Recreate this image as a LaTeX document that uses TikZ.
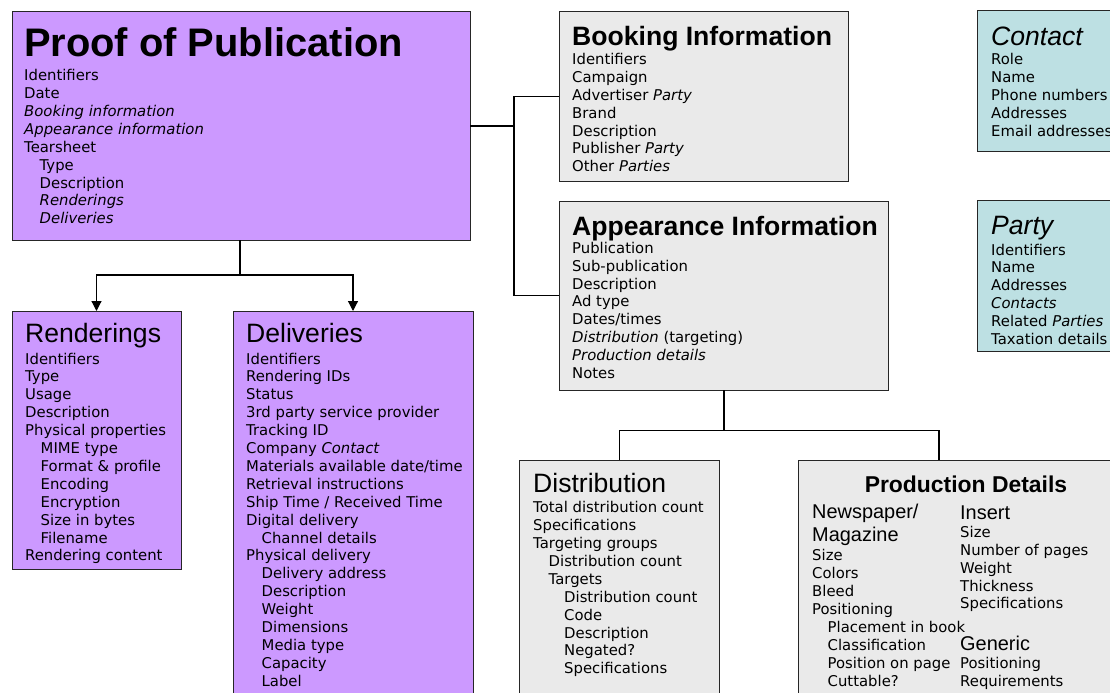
\documentclass[tikz,border=0pt]{standalone}
\usepackage{fontspec}
\newfontfamily\bodyfont{DejaVu Sans}
\newfontfamily\headfont{Liberation Sans}
\usetikzlibrary{arrows.meta,calc}
\definecolor{pub}{HTML}{CC99FF}
\definecolor{info}{HTML}{EAEAEA}
\definecolor{refc}{HTML}{BDE0E3}
\newcounter{ln}
\newcommand\startlist[4]{\def\lx{#1}\def\ly{#2}\def\lp{#3}\def\lname{#4}\setcounter{ln}{0}}
\newcommand\li[2]{\node[itm] (\lname-\theln) at ({\lx+#1*15.5},{\ly+\theln*\lp}) {#2};\stepcounter{ln}}
\tikzset{
  box/.style={draw=black!85, line width=1bp, rectangle, inner sep=0pt, outer sep=0pt, anchor=north west},
  itm/.style={inner sep=0pt, anchor=base west, font=\fontsize{14.9}{17}\bodyfont},
  bigtitle/.style={inner sep=0pt, anchor=base west, font=\fontsize{40}{44}\headfont\bfseries},
  btitle/.style={inner sep=0pt, anchor=base west, font=\fontsize{26.67}{30}\headfont\bfseries},
  rtitle/.style={inner sep=0pt, anchor=base west, font=\fontsize{26.67}{30}\headfont},
  ititle/.style={inner sep=0pt, anchor=base west, font=\fontsize{26.67}{30}\headfont\itshape},
  ptitle/.style={inner sep=0pt, anchor=base, font=\fontsize{23}{26}\headfont\bfseries},
  subhead/.style={inner sep=0pt, anchor=base west, font=\fontsize{20}{23}\headfont},
  conn/.style={draw=black, line width=1.2bp},
  arr/.style={conn, -{Triangle[length=10bp,width=10bp]}}
}
\begin{document}
\begin{tikzpicture}[x=1bp,y=-1bp]
\useasboundingbox (0,0) rectangle (1110,693);
\clip (0,0) rectangle (1110,693);
\fill[white] (0,0) rectangle (1110,693);

% boxes
\node[box, fill=pub, minimum width=458bp, minimum height=228bp] (pop) at (12,12) {};
\node[box, fill=info, minimum width=289bp, minimum height=169bp] (book) at (559,12) {};
\node[box, fill=info, minimum width=329bp, minimum height=189bp] (appear) at (559,201) {};
\node[box, fill=refc, minimum width=150bp, minimum height=140bp] (contact) at (977,11) {};
\node[box, fill=refc, minimum width=150bp, minimum height=151bp] (party) at (977,200) {};
\node[box, fill=pub, minimum width=169bp, minimum height=258bp] (rend) at (12,311) {};
\node[box, fill=pub, minimum width=240bp, minimum height=400bp] (deliv) at (233,311) {};
\node[box, fill=info, minimum width=199.5bp, minimum height=260bp] (distr) at (519.5,460) {};
\node[box, fill=info, minimum width=336bp, minimum height=260bp] (prod) at (798,460) {};

% connectors
\coordinate (jr) at (514,126);
\coordinate (jb) at (240,275);
\coordinate (ja) at (724,430.5);
\coordinate (pdtop) at (939,460);
\draw[conn] (pop.east) -- (pop.east -| jr);
\draw[conn] (book.west) -| (jr) |- (appear.west);
\draw[conn] (pop.south -| jb) -- (jb);
\draw[arr] (jb) -| (rend.north);
\draw[arr] (jb) -| (deliv.north);
\draw[conn] (appear.south -| ja) -- (ja);
\draw[conn] (ja) -| (distr.north);
\draw[conn] (ja) -| (pdtop);

% Proof of Publication
\node[bigtitle] (popt) at (24,57) {Proof of Publication};
\startlist{24}{81}{17.85}{popl}
\li{0}{Identifiers}
\li{0}{Date}
\li{0}{\textit{Booking information}}
\li{0}{\textit{Appearance information}}
\li{0}{Tearsheet}
\li{1}{Type}
\li{1}{Description}
\li{1}{\textit{Renderings}}
\li{1}{\textit{Deliveries}}

% Booking
\node[btitle] (bookt) at (572,45.5) {Booking Information};
\startlist{572}{65}{17.8}{bookl}
\li{0}{Identifiers}
\li{0}{Campaign}
\li{0}{Advertiser \textit{Party}}
\li{0}{Brand}
\li{0}{Description}
\li{0}{Publisher \textit{Party}}
\li{0}{Other \textit{Parties}}

% Appearance
\node[btitle] (appt) at (572,235) {Appearance Information};
\startlist{572}{253.3}{17.85}{appl}
\li{0}{Publication}
\li{0}{Sub-publication}
\li{0}{Description}
\li{0}{Ad type}
\li{0}{Dates/times}
\li{0}{\textit{Distribution} (targeting)}
\li{0}{\textit{Production details}}
\li{0}{Notes}

% Contact
\node[ititle] (cont) at (991,45.5) {Contact};
\startlist{991}{65}{17.8}{contl}
\li{0}{Role}
\li{0}{Name}
\li{0}{Phone numbers}
\li{0}{Addresses}
\li{0}{Email addresses}

% Party
\node[ititle] (partt) at (991,234) {Party};
\startlist{991}{255}{17.8}{partl}
\li{0}{Identifiers}
\li{0}{Name}
\li{0}{Addresses}
\li{0}{\textit{Contacts}}
\li{0}{Related \textit{Parties}}
\li{0}{Taxation details}

% Renderings
\node[rtitle] (rendt) at (25,342.5) {Renderings};
\startlist{25}{364}{17.9}{rendl}
\li{0}{Identifiers}
\li{0}{Type}
\li{0}{Usage}
\li{0}{Description}
\li{0}{Physical properties}
\li{1}{MIME type}
\li{1}{Format \& profile}
\li{1}{Encoding}
\li{1}{Encryption}
\li{1}{Size in bytes}
\li{1}{Filename}
\li{0}{Rendering content}

% Deliveries
\node[rtitle] (delivt) at (246,342.5) {Deliveries};
\startlist{246}{364}{17.9}{delivl}
\li{0}{Identifiers}
\li{0}{Rendering IDs}
\li{0}{Status}
\li{0}{3rd party service provider}
\li{0}{Tracking ID}
\li{0}{Company \textit{Contact}}
\li{0}{Materials available date/time}
\li{0}{Retrieval instructions}
\li{0}{Ship Time / Received Time}
\li{0}{Digital delivery}
\li{1}{Channel details}
\li{0}{Physical delivery}
\li{1}{Delivery address}
\li{1}{Description}
\li{1}{Weight}
\li{1}{Dimensions}
\li{1}{Media type}
\li{1}{Capacity}
\li{1}{Label}

% Distribution
\node[rtitle] (distrt) at (533,492) {Distribution};
\startlist{533}{512.7}{17.9}{distrl}
\li{0}{Total distribution count}
\li{0}{Specifications}
\li{0}{Targeting groups}
\li{1}{Distribution count}
\li{1}{Targets}
\li{2}{Distribution count}
\li{2}{Code}
\li{2}{Description}
\li{2}{Negated?}
\li{2}{Specifications}

% Production details
\node[ptitle] (prodt) at (966,492.5) {Production Details};
\node[subhead] (news) at (812,518.3) {Newspaper/};
\node[subhead] (mag) at (812,541.7) {Magazine};
\startlist{812}{560.7}{17.9}{prodl}
\li{0}{Size}
\li{0}{Colors}
\li{0}{Bleed}
\li{0}{Positioning}
\li{1}{Placement in book}
\li{1}{Classification}
\li{1}{Position on page}
\li{1}{Cuttable?}
\node[subhead] (ins) at (960,519.3) {Insert};
\startlist{960}{537.3}{17.9}{insl}
\li{0}{Size}
\li{0}{Number of pages}
\li{0}{Weight}
\li{0}{Thickness}
\li{0}{Specifications}
\node[subhead] (gen) at (960,650) {Generic};
\startlist{960}{668.3}{17.9}{genl}
\li{0}{Positioning}
\li{0}{Requirements}
\end{tikzpicture}
\end{document}
